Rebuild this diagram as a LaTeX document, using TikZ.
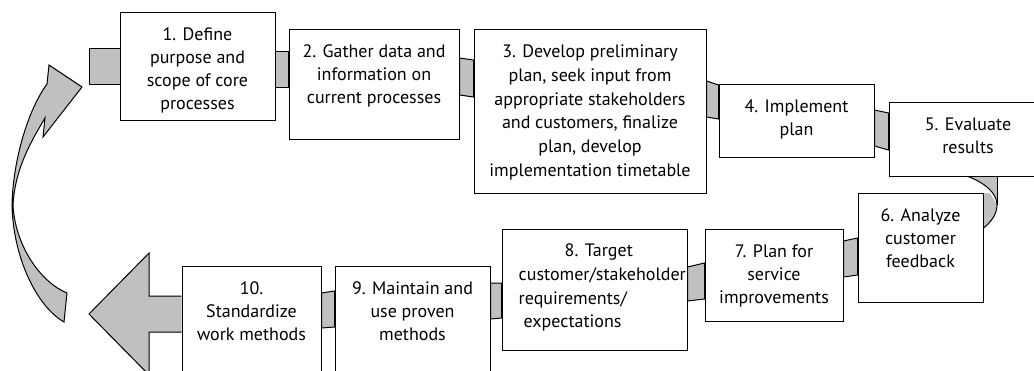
\documentclass[tikz,border=0pt]{standalone}
\usepackage{fontspec}
\setmainfont{PT Sans}
\usetikzlibrary{positioning,backgrounds}

\definecolor{bandgray}{RGB}{192,192,192}

\tikzset{
  stepbox/.style={draw,fill=white,line width=1pt,inner sep=0pt},
  steptext/.style={inner sep=0pt,align=center,font=\fontsize{18}{23}\selectfont},
  widetext/.style={steptext,font=\fontsize{18}{23.8}\selectfont},
  band/.style={fill=bandgray,draw,line width=1pt},
}

\begin{document}
\begin{tikzpicture}[x=1pt,y=-1pt]

\clip (0,0) rectangle (1034,370);

\newcommand\linkbar[6]
{
    \filldraw[band] (#1.east |- 0,#2) -- (#4.west |- 0,#5) -- (#4.west |- 0,#6) -- (#1.east |- 0,#3) -- cycle;
}

% top row
\node[stepbox, minimum width=155pt, minimum height=108pt] (b1) at (197.5,66) {};
\node[stepbox, minimum width=170pt, minimum height=110pt] (b2) at (374,84) {};
\node[stepbox, minimum width=232pt, minimum height=164pt] (b3) at (590,111) {};
\node[stepbox, minimum width=155pt, minimum height=73pt] (b4) at (796.5,120.5) {};
\node[stepbox, minimum width=158pt, minimum height=74pt] (b5) at (968,139) {};

% bottom row
\node[stepbox, minimum width=125pt, minimum height=109pt] (b6) at (920.5,247.5) {};
\node[stepbox, minimum width=138pt, minimum height=92pt] (b7) at (774,275) {};
\node[stepbox, minimum width=185pt, minimum height=121pt] (b8) at (594.5,289.5) {};
\node[stepbox, minimum width=155pt, minimum height=120pt] (b9) at (412.5,326) {};
\node[stepbox, minimum width=139pt, minimum height=120pt] (b10) at (251.5,326) {};

\node[steptext, below=16pt of b1.north] (t1) {1. Define\\purpose and\\scope of core\\processes};
\node[steptext, below=16pt of b2.north] (t2) {2. Gather data and\\information on\\current processes};
\node[widetext, below=16pt of b3.north] (t3) {3. Develop preliminary\\plan, seek input from\\appropriate stakeholders\\and customers, finalize\\plan, develop\\implementation timetable};
\node[steptext, below=16pt of b4.north] (t4) {4. Implement\\plan};
\node[steptext, below=16pt of b5.north] (t5) {5. Evaluate\\results};
\node[steptext, below=16pt of b6.north] (t6) {6. Analyze\\customer\\feedback};
\node[steptext, below=16pt of b7.north] (t7) {7. Plan for\\service\\improvements};
\node[widetext, align=left, below right=15pt and 17pt of b8.north west] (t8) {\hspace*{46pt}8. Target\\customer/stakeholder\\requirements/\\\hspace*{5pt}expectations};
\node[steptext, below=16pt of b9.north] (t9) {9. Maintain and\\use proven\\methods};
\node[steptext, below=16pt of b10.north] (t10) {10.\\Standardize\\work methods};

\begin{scope}[on background layer]
    % bars between the boxes
    \filldraw[band] (b1.west |- 0,48) -- (89,48) -- (89,84) -- (b1.west |- 0,84);
    \linkbar{b1}{51}{87}{b2}{51}{87}
    \linkbar{b2}{58}{95}{b3}{60}{97}
    \linkbar{b3}{81}{117}{b4}{85}{119}
    \linkbar{b4}{110}{146}{b5}{113}{150}
    \linkbar{b7}{241}{277}{b6}{238}{275}
    \linkbar{b8}{267}{301}{b7}{263}{299}
    \linkbar{b9}{283}{319}{b8}{283}{318}
    \linkbar{b10}{293}{328}{b9}{291}{327}

    % bend from 5 down to 6
    \fill[bandgray] (967,176) -- (997,176) -- (997,205) .. controls (997,193) and (985,183) .. (967,176) -- cycle;
    \fill[bandgray] (983,193) -- (990,193) -- (997,205) .. controls (997,215) and (990,223) .. (b6.east |- 0,228) -- cycle;
    \draw[line width=1pt] (967,176) .. controls (985,183) and (997,193) .. (997,205) .. controls (997,215) and (990,223) .. (b6.east |- 0,228);
    \draw[line width=1pt] (997,176) -- (997,205);

    % big arrow out of 10
    \filldraw[band] (b10.west |- 0,296) -- (149,296) -- (149,253) -- (89,314) -- (149,375) -- (149,332) -- (b10.west |- 0,332);
\end{scope}

% return arrow back to 1
\filldraw[band] (82,87) -- (49,65) -- (47,84) .. controls (28,110) and (13,160) .. (12,205)
    .. controls (13,255) and (35,305) .. (64,322) -- (67,293)
    .. controls (40,282) and (15,245) .. (13,205)
    .. controls (15,168) and (32,140) .. (45,118) -- (43,137) -- cycle;

\end{tikzpicture}
\end{document}
